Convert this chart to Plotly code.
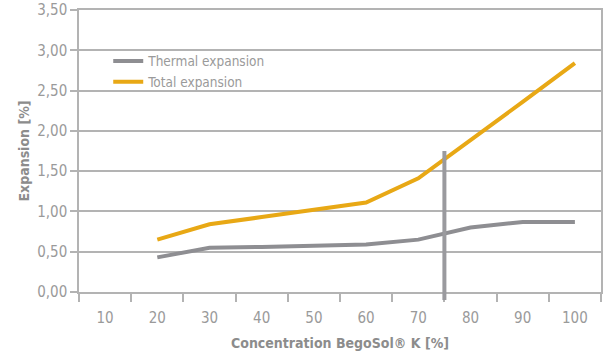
import plotly.graph_objects as go

concentration = [20, 30, 40, 50, 60, 70, 80, 90, 100]
thermal_expansion = [0.43, 0.55, 0.56, 0.57, 0.59, 0.65, 0.80, 0.87, 0.87]
total_expansion = [0.65, 0.84, 0.93, 1.02, 1.11, 1.41, 1.88, 2.36, 2.84]

x_tick_vals = [10, 20, 30, 40, 50, 60, 70, 80, 90, 100]
y_tick_vals = [0, 0.5, 1.0, 1.5, 2.0, 2.5, 3.0, 3.5]
y_tick_text = ["0,00", "0,50", "1,00", "1,50", "2,00", "2,50", "3,00", "3,50"]

marker_conc = 75
marker_top = 1.75

FONT = "DejaVu Sans Condensed, Roboto, sans-serif"
GRID = "#b3b3b3"
TXT = "#9a9a9a"

fig = go.Figure()
fig.add_trace(go.Scatter(x=concentration, y=thermal_expansion, mode="lines",
                         name="Thermal expansion",
                         line=dict(color="#8e8e92", width=4)))
fig.add_trace(go.Scatter(x=concentration, y=total_expansion, mode="lines",
                         name="Total expansion",
                         line=dict(color="#e8a815", width=4)))

ymax = 3.5
fig.add_shape(type="line", xref="x", yref="paper",
              x0=marker_conc, x1=marker_conc,
              y0=-8 / 282, y1=marker_top / ymax,
              line=dict(color="#9a9a9e", width=4), layer="above")

fig.update_layout(
    width=603, height=351,
    margin=dict(l=79, r=2, t=10, b=59),
    paper_bgcolor="white", plot_bgcolor="white",
    font=dict(family=FONT, color=TXT, size=15),
    showlegend=True,
    legend=dict(x=0.056, y=0.873, xanchor="left", yanchor="top",
                bgcolor="rgba(0,0,0,0)", font=dict(size=13.5, color=TXT),
                tracegroupgap=0, itemwidth=30),
    xaxis=dict(range=[5, 105], tickvals=x_tick_vals,
               ticktext=[str(v) for v in x_tick_vals],
               ticks="", showgrid=False, zeroline=False,
               showline=True, mirror=True, linecolor=GRID, linewidth=1.5,
               automargin=False, ticklabelstandoff=11,
               ticklabeloverflow="allow",
               minor=dict(tick0=5, dtick=10, ticks="outside", ticklen=8,
                          tickcolor=GRID, tickwidth=1.5, showgrid=False),
               tickfont=dict(size=15, color=TXT),
               title=dict(text="<b>Concentration BegoSol® K [%]</b>",
                          font=dict(size=14, color="#8c8c8c"), standoff=12)),
    yaxis=dict(range=[0, ymax], tickvals=y_tick_vals, ticktext=y_tick_text,
               ticks="outside", ticklen=7, tickcolor=GRID, tickwidth=1.5,
               showgrid=True, gridcolor=GRID, gridwidth=1.5,
               zeroline=False, showline=True, linecolor=GRID, linewidth=1.5,
               mirror=True, automargin=False, ticklabeloverflow="allow",
               tickfont=dict(size=15, color=TXT),
               title=dict(text="<b>Expansion [%]</b>",
                          font=dict(size=14, color="#8c8c8c"), standoff=4)),
)

fig.write_html("out.html",
               config={"displayModeBar": False},
               post_script="document.body.style.margin='0px';")
